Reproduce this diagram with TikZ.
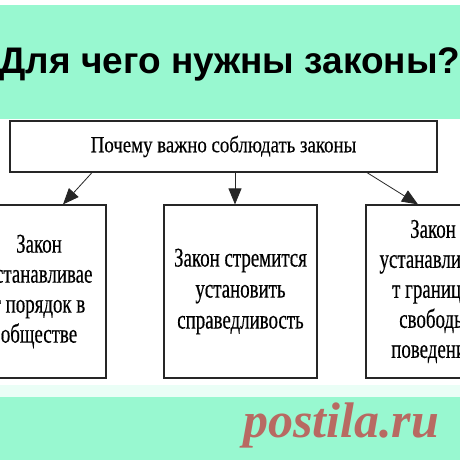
\documentclass[tikz,border=0pt]{standalone}
\usepackage{fontspec}
\usetikzlibrary{arrows.meta,positioning}
\setmainfont{Liberation Serif}
\newfontfamily\titlefont{Liberation Sans}
\newfontfamily\narrowserif[FakeStretch=0.7,FakeBold=0.4]{Liberation Serif}
\newfontfamily\topserif[FakeStretch=0.82,FakeBold=0.3]{Liberation Serif}
\definecolor{mint}{HTML}{98F8D0}
\definecolor{wmark}{HTML}{B86A62}
\tikzset{
  boxstyle/.style={draw=black!85, line width=1.2pt, fill=white, inner sep=0pt, align=center},
  smallbox/.style={boxstyle, minimum width=134pt, minimum height=173pt,
     font=\narrowserif\fontsize{27}{30}\selectfont},
  midbox/.style={boxstyle, minimum width=153pt, minimum height=173pt,
     font=\narrowserif\fontsize{27}{31}\selectfont},
  conn/.style={line width=0.8pt, draw=black!85, -{Triangle[width=13pt,length=16pt]}}
}
\begin{document}
\begin{tikzpicture}[x=1pt,y=-1pt]
\useasboundingbox (0,0) rectangle (460,460);
\clip (0,0) rectangle (460,460);
\fill[white] (0,0) rectangle (460,460);
\fill[mint] (0,5) rectangle (460,119);
\fill[mint!20] (0,385) rectangle (460,397);
\fill[mint] (0,397) rectangle (460,460);
\node[font=\titlefont\bfseries\fontsize{37}{40}\selectfont, anchor=center] (title) at (230,64) {Для чего нужны законы?};
\node[boxstyle, minimum width=427pt, minimum height=51pt,
      font=\topserif\fontsize{23}{26}\selectfont] (top) at (223.5,146.5) {Почему важно соблюдать законы};
\node[smallbox] (left) at (39,291.5) {Закон\\устанавливае\\т порядок в\\обществе};
\node[midbox] (mid) at (240.5,291.5) {Закон стремится\\установить\\справедливость};
\node[smallbox] (right) at (433,291.5) {Закон\\устанавливае\\т границы\\свободы\\поведения};
\draw[conn] ([xshift=-131.5pt]top.south) -- ([xshift=24pt]left.north);
\draw[conn] ([xshift=11.5pt]top.south) -- ([xshift=-5.5pt]mid.north);
\draw[conn] ([xshift=143.5pt]top.south) -- ([xshift=-15pt]right.north);
\node[font=\bfseries\itshape\fontsize{50}{50}\selectfont, text=wmark, anchor=center] (wm) at (341,425) {postila.ru};
\end{tikzpicture}
\end{document}
